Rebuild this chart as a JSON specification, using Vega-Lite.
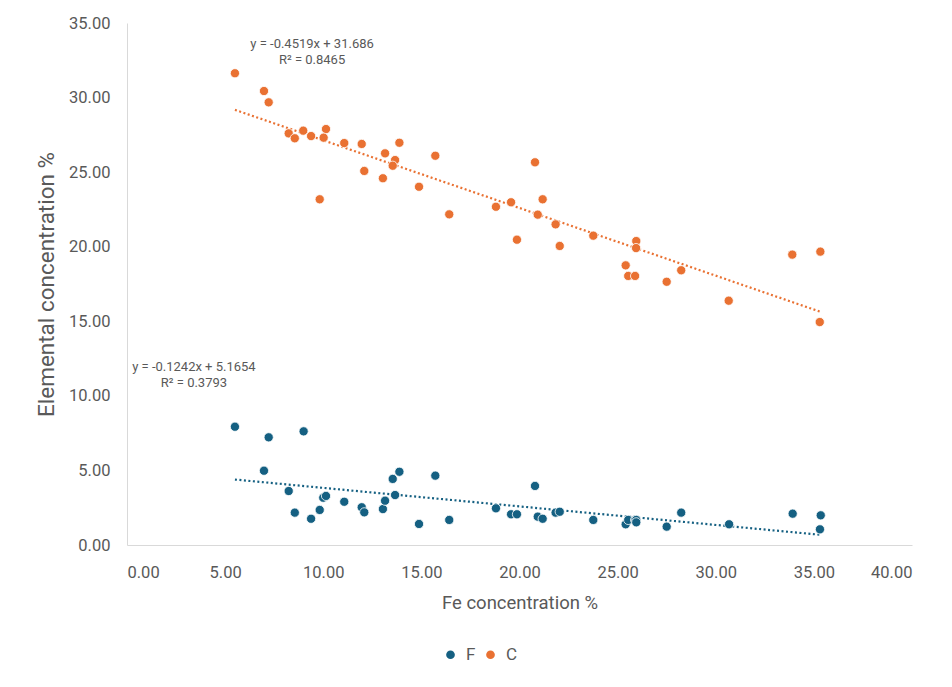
{
  "$schema": "https://vega.github.io/schema/vega-lite/v6.json",
  "autosize": {"type": "none"},
  "width": 785,
  "height": 522,
  "padding": {"left": 127, "top": 23, "right": 40, "bottom": 142},
  "background": "white",
  "config": {
    "view": {"stroke": null},
    "font": "Roboto",
    "axis": {
      "grid": false,
      "ticks": false,
      "domainColor": "#D9D9D9",
      "domainWidth": 1,
      "labelColor": "#595959",
      "labelFontSize": 16.5,
      "titleColor": "#595959",
      "titleFontWeight": "normal"
    }
  },
  "datasets": {
    "points": [
      {"Fe": 5.50, "value": 31.63, "element": "C"},
      {"Fe": 6.98, "value": 30.44, "element": "C"},
      {"Fe": 7.22, "value": 29.68, "element": "C"},
      {"Fe": 8.24, "value": 27.60, "element": "C"},
      {"Fe": 8.55, "value": 27.27, "element": "C"},
      {"Fe": 8.98, "value": 27.78, "element": "C"},
      {"Fe": 9.38, "value": 27.42, "element": "C"},
      {"Fe": 10.14, "value": 27.89, "element": "C"},
      {"Fe": 10.02, "value": 27.31, "element": "C"},
      {"Fe": 11.07, "value": 26.95, "element": "C"},
      {"Fe": 11.96, "value": 26.89, "element": "C"},
      {"Fe": 13.88, "value": 26.97, "element": "C"},
      {"Fe": 13.15, "value": 26.26, "element": "C"},
      {"Fe": 13.66, "value": 25.81, "element": "C"},
      {"Fe": 13.54, "value": 25.43, "element": "C"},
      {"Fe": 12.09, "value": 25.08, "element": "C"},
      {"Fe": 13.04, "value": 24.59, "element": "C"},
      {"Fe": 14.88, "value": 24.02, "element": "C"},
      {"Fe": 15.71, "value": 26.10, "element": "C"},
      {"Fe": 9.82, "value": 23.18, "element": "C"},
      {"Fe": 16.42, "value": 22.17, "element": "C"},
      {"Fe": 20.79, "value": 25.66, "element": "C"},
      {"Fe": 18.80, "value": 22.68, "element": "C"},
      {"Fe": 19.57, "value": 22.98, "element": "C"},
      {"Fe": 21.18, "value": 23.18, "element": "C"},
      {"Fe": 20.93, "value": 22.15, "element": "C"},
      {"Fe": 21.84, "value": 21.50, "element": "C"},
      {"Fe": 19.87, "value": 20.47, "element": "C"},
      {"Fe": 22.05, "value": 20.05, "element": "C"},
      {"Fe": 23.76, "value": 20.74, "element": "C"},
      {"Fe": 25.95, "value": 20.38, "element": "C"},
      {"Fe": 25.94, "value": 19.91, "element": "C"},
      {"Fe": 25.41, "value": 18.75, "element": "C"},
      {"Fe": 25.54, "value": 18.04, "element": "C"},
      {"Fe": 25.89, "value": 18.04, "element": "C"},
      {"Fe": 27.50, "value": 17.65, "element": "C"},
      {"Fe": 28.24, "value": 18.42, "element": "C"},
      {"Fe": 30.66, "value": 16.38, "element": "C"},
      {"Fe": 33.90, "value": 19.47, "element": "C"},
      {"Fe": 35.33, "value": 19.67, "element": "C"},
      {"Fe": 35.30, "value": 14.95, "element": "C"},
      {"Fe": 5.50, "value": 7.93, "element": "F"},
      {"Fe": 6.98, "value": 4.98, "element": "F"},
      {"Fe": 7.22, "value": 7.22, "element": "F"},
      {"Fe": 8.24, "value": 3.62, "element": "F"},
      {"Fe": 8.55, "value": 2.17, "element": "F"},
      {"Fe": 9.00, "value": 7.62, "element": "F"},
      {"Fe": 9.38, "value": 1.76, "element": "F"},
      {"Fe": 9.82, "value": 2.35, "element": "F"},
      {"Fe": 10.00, "value": 3.17, "element": "F"},
      {"Fe": 10.14, "value": 3.29, "element": "F"},
      {"Fe": 11.07, "value": 2.90, "element": "F"},
      {"Fe": 11.96, "value": 2.53, "element": "F"},
      {"Fe": 12.09, "value": 2.19, "element": "F"},
      {"Fe": 13.04, "value": 2.41, "element": "F"},
      {"Fe": 13.15, "value": 2.97, "element": "F"},
      {"Fe": 13.54, "value": 4.43, "element": "F"},
      {"Fe": 13.66, "value": 3.35, "element": "F"},
      {"Fe": 13.88, "value": 4.91, "element": "F"},
      {"Fe": 14.88, "value": 1.41, "element": "F"},
      {"Fe": 15.71, "value": 4.65, "element": "F"},
      {"Fe": 16.42, "value": 1.68, "element": "F"},
      {"Fe": 18.80, "value": 2.46, "element": "F"},
      {"Fe": 19.57, "value": 2.06, "element": "F"},
      {"Fe": 19.87, "value": 2.06, "element": "F"},
      {"Fe": 20.79, "value": 3.96, "element": "F"},
      {"Fe": 20.93, "value": 1.90, "element": "F"},
      {"Fe": 21.18, "value": 1.76, "element": "F"},
      {"Fe": 21.84, "value": 2.17, "element": "F"},
      {"Fe": 22.05, "value": 2.23, "element": "F"},
      {"Fe": 23.76, "value": 1.68, "element": "F"},
      {"Fe": 25.41, "value": 1.39, "element": "F"},
      {"Fe": 25.54, "value": 1.68, "element": "F"},
      {"Fe": 25.89, "value": 1.68, "element": "F"},
      {"Fe": 25.95, "value": 1.68, "element": "F"},
      {"Fe": 25.95, "value": 1.52, "element": "F"},
      {"Fe": 27.50, "value": 1.23, "element": "F"},
      {"Fe": 28.24, "value": 2.17, "element": "F"},
      {"Fe": 30.68, "value": 1.39, "element": "F"},
      {"Fe": 33.92, "value": 2.10, "element": "F"},
      {"Fe": 35.35, "value": 1.99, "element": "F"},
      {"Fe": 35.31, "value": 1.05, "element": "F"}
    ],
    "labels": [
      {"Fe": 9.43, "value": 33.6, "text": "y = -0.4519x + 31.686"},
      {"Fe": 9.43, "value": 32.5, "text": "R² = 0.8465"},
      {"Fe": 3.41, "value": 11.94, "text": "y = -0.1242x + 5.1654"},
      {"Fe": 3.41, "value": 10.86, "text": "R² = 0.3793"}
    ]
  },
  "layer": [
    {
      "data": {"name": "points"},
      "transform": [
        {"regression": "value", "on": "Fe", "groupby": ["element"], "method": "linear"}
      ],
      "mark": {"type": "line", "strokeDash": [2, 2.5], "strokeWidth": 2.2},
      "encoding": {
        "x": {"field": "Fe", "type": "quantitative"},
        "y": {"field": "value", "type": "quantitative"},
        "color": {"field": "element", "type": "nominal",
          "scale": {"domain": ["F", "C"], "range": ["#156082", "#E97132"]}}
      }
    },
    {
      "data": {"name": "points"},
      "mark": {"type": "point", "shape": "circle", "filled": true, "size": 85, "opacity": 1, "stroke": "white", "strokeWidth": 0.8},
      "encoding": {
        "x": {
          "field": "Fe", "type": "quantitative",
          "scale": {"domain": [0, 40], "nice": false, "zero": true},
          "axis": {"values": [0, 5, 10, 15, 20, 25, 30, 35, 40], "format": ".2f", "labelPadding": 19, "title": "Fe concentration %", "titleFontSize": 18.5, "titlePadding": 13}
        },
        "y": {
          "field": "value", "type": "quantitative",
          "scale": {"domain": [0, 35], "nice": false},
          "axis": {"values": [0, 5, 10, 15, 20, 25, 30, 35], "format": ".2f", "labelPadding": 17, "title": "Elemental concentration %", "titleFontSize": 22.5, "titlePadding": 10}
        },
        "color": {
          "field": "element", "type": "nominal",
          "scale": {"domain": ["F", "C"], "range": ["#156082", "#E97132"]},
          "legend": {
            "title": null, "orient": "none", "direction": "horizontal",
            "legendX": 315, "legendY": 623,
            "symbolType": "circle", "symbolSize": 75, "symbolStrokeWidth": 0,
            "labelFontSize": 17, "labelColor": "#595959", "columnPadding": 6, "labelOffset": 7
          }
        }
      }
    },
    {
      "data": {"name": "labels"},
      "mark": {"type": "text", "fontSize": 13, "color": "#595959", "align": "center", "baseline": "middle"},
      "encoding": {
        "x": {"field": "Fe", "type": "quantitative"},
        "y": {"field": "value", "type": "quantitative"},
        "text": {"field": "text"}
      }
    }
  ]
}
